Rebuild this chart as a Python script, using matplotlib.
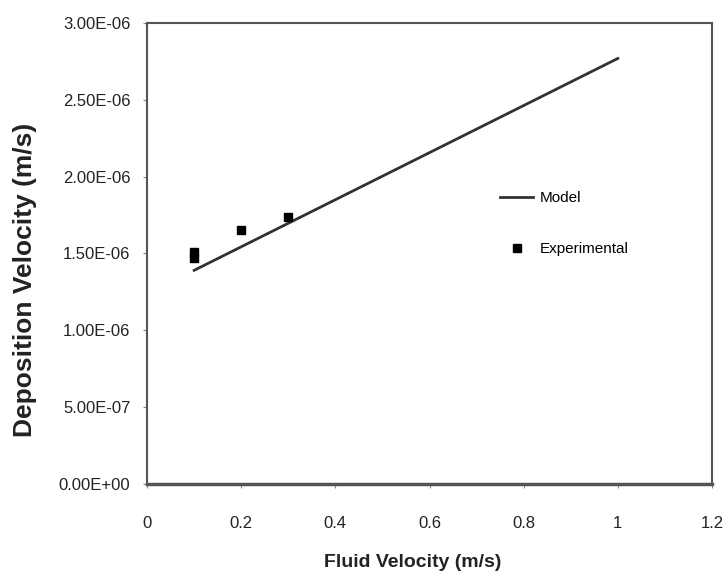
import numpy as np
import matplotlib.pyplot as plt

# Modell: avsetningshastighet mot væskehastighet
model_x = [0.1, 1.0]
model_y = [1.39e-6, 2.77e-6]

# Målte verdier
exp_x = [0.1, 0.1, 0.2, 0.3]
exp_y = [1.47e-6, 1.51e-6, 1.655e-6, 1.735e-6]

xticks = [0, 0.2, 0.4, 0.6, 0.8, 1, 1.2]
xticklabels = ['0', '0.2', '0.4', '0.6', '0.8', '1', '1.2']
yticks = [0, 5e-7, 1e-6, 1.5e-6, 2e-6, 2.5e-6, 3e-6]
yticklabels = ['0.00E+00', '5.00E-07', '1.00E-06', '1.50E-06',
               '2.00E-06', '2.50E-06', '3.00E-06']

plt.rcParams['font.family'] = ['Liberation Sans', 'DejaVu Sans']

fig = plt.figure(figsize=(7.28, 5.78), dpi=100)
ax = fig.add_axes([0.202, 0.163, 0.776, 0.797])

ax.plot(model_x, model_y, color='#333333', lw=2, label='Model')
ax.plot(exp_x, exp_y, 's', color='black', ms=6, label='Experimental')

ax.set_xlim(0, 1.2)
ax.set_ylim(0, 3e-6)
ax.set_xticks(xticks)
ax.set_xticklabels(xticklabels)
ax.set_yticks(yticks)
ax.set_yticklabels(yticklabels)
ax.tick_params(labelsize=12, length=3, color='#888888', colors='#222222')
ax.tick_params(axis='x', pad=20)
ax.tick_params(axis='y', pad=9)

for s in ax.spines.values():
    s.set_color('#555555')
    s.set_linewidth(1.5)
ax.spines['bottom'].set_linewidth(2.5)

ax.set_xlabel('Fluid Velocity (m/s)', fontsize=14, fontweight='bold',
              color='#222222')
ax.xaxis.set_label_coords(0.471, -0.152)
ax.set_ylabel('Deposition Velocity (m/s)', fontsize=19, fontweight='bold',
              color='#222222')
ax.yaxis.set_label_coords(-0.195, 0.443)

ax.legend(loc='upper left', bbox_to_anchor=(0.6, 0.665), frameon=False,
          fontsize=11, labelspacing=2.4, handlelength=2.2, handletextpad=0.4)

fig.savefig('out.png', dpi=100)
